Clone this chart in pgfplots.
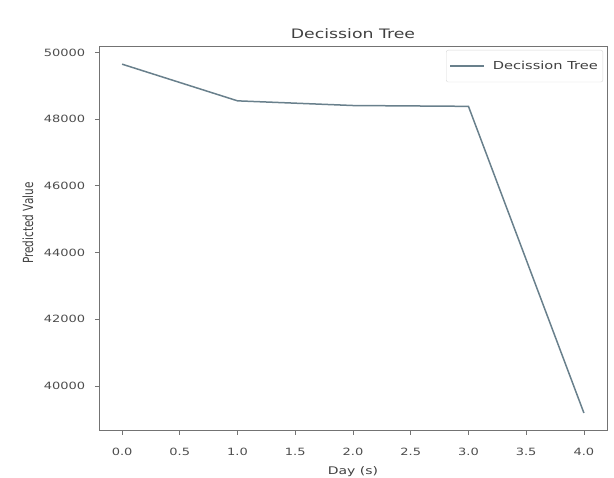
\documentclass[border=0pt]{standalone}
\usepackage{fontspec}
\setmainfont{DejaVu Sans}
\usepackage{pgfplots}
\pgfplotsset{compat=1.18}
\definecolor{linec}{RGB}{105,128,140}
\begin{document}
\begin{tikzpicture}[x=1pt,y=1pt]
\useasboundingbox (0,0) rectangle (614,478);
\begin{axis}[
  at={(99pt,47pt)}, anchor=south west,
  scale only axis, width=508pt, height=384pt,
  xmin=-0.2, xmax=4.2, ymin=38650, ymax=50165,
  scaled ticks=false,
  xtick={0,0.5,...,4}, ytick={40000,42000,...,50000},
  xticklabel style={/pgf/number format/fixed,/pgf/number format/fixed zerofill,/pgf/number format/precision=1, anchor=center, yshift=-17pt},
  yticklabel style={/pgf/number format/fixed,/pgf/number format/1000 sep={}, xshift=-4pt},
  /pgf/number format/assume math mode=true,
  tick align=outside, tick pos=left,
  major tick length=4pt,
  axis line style={black!55, line width=1pt},
  every tick/.style={black!55, line width=0.8pt},
  tick label style={font=\fontsize{10}{12}\selectfont, text=black!70, xscale=1.3},
  xlabel={Day (s)}, ylabel={Predicted Value},
  xlabel style={font=\fontsize{10.5}{12}\selectfont, text=black!75, xscale=1.33, at={(axis description cs:0.5,0)}, anchor=center, yshift=-41pt},
  ylabel style={font=\fontsize{10.5}{12}\selectfont, text=black!75, at={(axis description cs:0,0.5)}, anchor=center, xshift=16pt, yshift=71pt, yscale=1.33},
  title={Decission Tree},
  title style={font=\fontsize{13}{15}\selectfont, text=black!75, xscale=1.33, at={(axis description cs:0.5,1)}, anchor=center, yshift=7pt},
  legend style={at={(axis description cs:1,1)}, anchor=north east, xshift=-4pt, yshift=-3pt, font=\fontsize{11}{13}\selectfont, text=black!75, draw=black!15, rounded corners=2pt, inner xsep=3pt, inner ysep=9pt},
  legend cell align=left,
  legend image code/.code={\draw[#1] (0pt,0pt) -- (34pt,0pt);},
]
\addplot[linec, line width=1.5pt] coordinates {
  (0,49650) (1,48550) (2,48410) (3,48385) (4,39190)
};
\addlegendentry{\hspace*{6pt}\scalebox{1.33}[1]{Decission Tree}}
\end{axis}
\end{tikzpicture}
\end{document}
